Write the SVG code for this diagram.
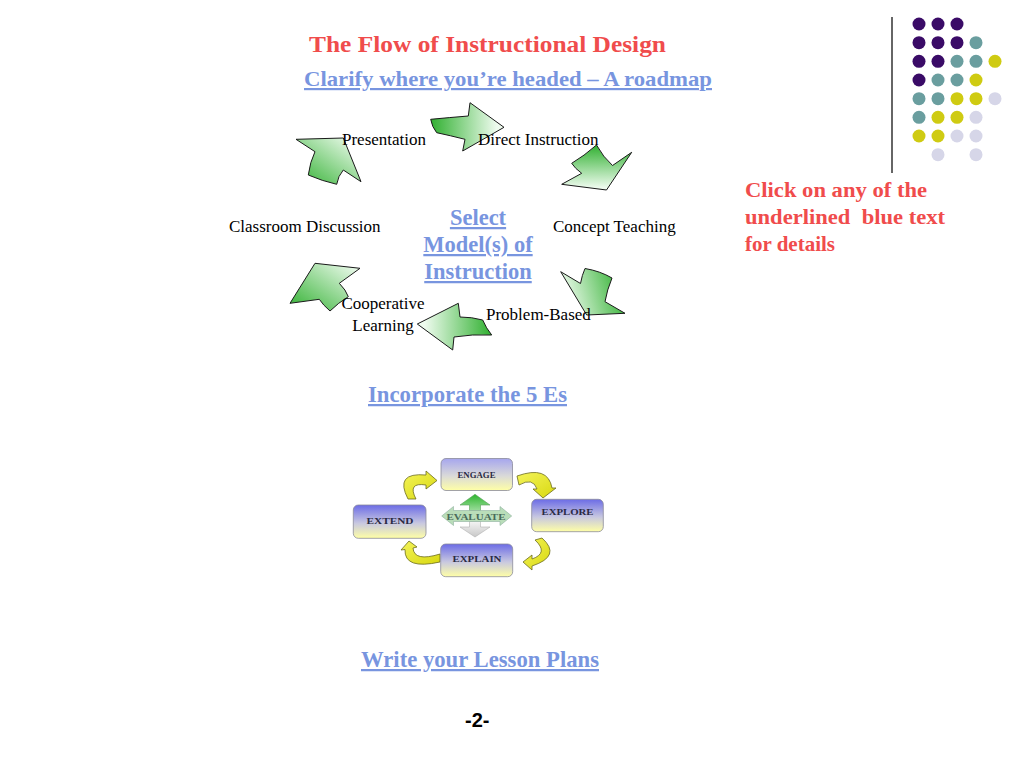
<svg xmlns="http://www.w3.org/2000/svg" width="1024" height="768" viewBox="0 0 1024 768">
<defs>
<style>
.red{font-family:"Liberation Serif","Times New Roman",serif;font-weight:bold;fill:#F04C4C}
.blue{font-family:"Liberation Serif","Times New Roman",serif;font-weight:bold;fill:#7895DF;text-decoration:underline}
.lbl{font-family:"Liberation Serif","Times New Roman",serif;font-size:17px;fill:#000}
.ga{stroke:#1a1a1a;stroke-width:1}
.box{stroke:#8a8a9a;stroke-width:0.8}
.bt{font-family:"Liberation Serif","Times New Roman",serif;font-weight:bold;font-size:8.5px;fill:#2a2a44;text-anchor:middle}
.ya{fill:url(#gy);stroke:#6b6b1e;stroke-width:0.8}
.dk{fill:#3A0B67}.tl{fill:#6A9E9F}.yl{fill:#CFCB12}.lv{fill:#D6D6E8}
</style>
<linearGradient id="g1" x1="0" y1="0.5" x2="1" y2="0.5"><stop offset="0" stop-color="#30B030"/><stop offset="0.9" stop-color="#EEFBEE"/></linearGradient>
<linearGradient id="g2" x1="0.5" y1="0" x2="0.5" y2="1"><stop offset="0" stop-color="#30B030"/><stop offset="0.95" stop-color="#EEFBEE"/></linearGradient>
<linearGradient id="g3" x1="1" y1="0.4" x2="0" y2="0.6"><stop offset="0" stop-color="#30B030"/><stop offset="0.95" stop-color="#EEFBEE"/></linearGradient>
<linearGradient id="g4" x1="1" y1="0.5" x2="0" y2="0.5"><stop offset="0" stop-color="#30B030"/><stop offset="0.9" stop-color="#EEFBEE"/></linearGradient>
<linearGradient id="g5" x1="0" y1="1" x2="1" y2="0"><stop offset="0" stop-color="#30B030"/><stop offset="0.95" stop-color="#EEFBEE"/></linearGradient>
<linearGradient id="gb" x1="0" y1="0" x2="0" y2="1"><stop offset="0" stop-color="#6C6CE6"/><stop offset="0.55" stop-color="#C8C8E0"/><stop offset="1" stop-color="#FFFFA6"/></linearGradient>
<linearGradient id="gbl" x1="0" y1="0" x2="0" y2="1"><stop offset="0" stop-color="#A6A6EE"/><stop offset="0.55" stop-color="#DADAD8"/><stop offset="1" stop-color="#FFFFA6"/></linearGradient>
<linearGradient id="gy" x1="0" y1="0" x2="1" y2="1"><stop offset="0" stop-color="#F4F45A"/><stop offset="1" stop-color="#D8D810"/></linearGradient>
<linearGradient id="gup" x1="0" y1="0" x2="0" y2="1"><stop offset="0" stop-color="#2EB62E"/><stop offset="1" stop-color="#9ADC9A"/></linearGradient>
<linearGradient id="gdn" x1="0" y1="0" x2="0" y2="1"><stop offset="0" stop-color="#F4F4F4"/><stop offset="1" stop-color="#C8C8C8"/></linearGradient>
</defs>
<rect width="1024" height="768" fill="#fff"/>

<g id="decoration">
<line x1="892" y1="17" x2="892" y2="173" stroke="#333" stroke-width="1.5"/>
<circle class="dk" cx="919" cy="24" r="6.5"/><circle class="dk" cx="938" cy="24" r="6.5"/><circle class="dk" cx="957" cy="24" r="6.5"/>
<circle class="dk" cx="919" cy="42.7" r="6.5"/><circle class="dk" cx="938" cy="42.7" r="6.5"/><circle class="dk" cx="957" cy="42.7" r="6.5"/><circle class="tl" cx="976" cy="42.7" r="6.5"/>
<circle class="dk" cx="919" cy="61.3" r="6.5"/><circle class="dk" cx="938" cy="61.3" r="6.5"/><circle class="tl" cx="957" cy="61.3" r="6.5"/><circle class="tl" cx="976" cy="61.3" r="6.5"/><circle class="yl" cx="995" cy="61.3" r="6.5"/>
<circle class="dk" cx="919" cy="80" r="6.5"/><circle class="tl" cx="938" cy="80" r="6.5"/><circle class="tl" cx="957" cy="80" r="6.5"/><circle class="yl" cx="976" cy="80" r="6.5"/>
<circle class="tl" cx="919" cy="98.7" r="6.5"/><circle class="tl" cx="938" cy="98.7" r="6.5"/><circle class="yl" cx="957" cy="98.7" r="6.5"/><circle class="yl" cx="976" cy="98.7" r="6.5"/><circle class="lv" cx="995" cy="98.7" r="6.5"/>
<circle class="tl" cx="919" cy="117.3" r="6.5"/><circle class="yl" cx="938" cy="117.3" r="6.5"/><circle class="yl" cx="957" cy="117.3" r="6.5"/><circle class="lv" cx="976" cy="117.3" r="6.5"/>
<circle class="yl" cx="919" cy="136" r="6.5"/><circle class="yl" cx="938" cy="136" r="6.5"/><circle class="lv" cx="957" cy="136" r="6.5"/><circle class="lv" cx="976" cy="136" r="6.5"/>
<circle class="lv" cx="938" cy="154.7" r="6.5"/><circle class="lv" cx="976" cy="154.7" r="6.5"/>
</g>

<g id="titles">
<text class="red" x="309" y="52" font-size="24" textLength="357" lengthAdjust="spacingAndGlyphs">The Flow of Instructional Design</text>
<text class="blue" x="304" y="86" font-size="22" textLength="408" lengthAdjust="spacingAndGlyphs">Clarify where you’re headed – A roadmap</text>
<text class="red" font-size="21" xml:space="preserve"><tspan x="745" y="197" textLength="182" lengthAdjust="spacingAndGlyphs">Click on any of the</tspan><tspan x="745" y="224" textLength="200" lengthAdjust="spacingAndGlyphs" style="white-space:pre">underlined  blue text</tspan><tspan x="745" y="251">for details</tspan></text>
</g>

<g id="connectors">
<path class="ga" fill="url(#g1)" d="M430.7,119.3 Q450,117.5 468.3,116 L470,102.7 L504,127.3 L462.7,151 L465,139.3 Q450,135.5 436.7,132.7 Q432,127 430.7,119.3 Z"/>
<path class="ga" fill="url(#g2)" d="M596.5,145 Q603,157 612.5,165.5 L631.7,152.3 L606.5,190 L561.7,184.3 L581.7,173.3 Q575,168.5 571.7,163.3 Q584,156 596.5,145 Z"/>
<path class="ga" fill="url(#g3)" d="M560.7,271.7 L580.5,283.5 Q582,275 585,268.5 Q600,271 612,278 Q607,290 605,301.7 L625,313.3 L586.7,315 Z"/>
<path class="ga" fill="url(#g4)" d="M417.3,324 L458.3,303.3 L460,317 Q472,317 482.7,320 Q486,328 491.7,335 Q472,334 454,337 L452.7,350 Z"/>
<path class="ga" fill="url(#g5)" d="M290,303.3 L315,263.3 L360,268.3 L339.3,283.3 Q346,290 348.3,296.7 Q338,303 330,311 Q323,305 319.3,299.3 Z"/>
<path class="ga" fill="url(#g5)" d="M296,139.3 L343.3,138 L361,181.7 L343.3,170 Q338,176 336.7,184.3 Q322,181 308.3,175 Q310,162 315,151.7 Z"/>
<path class="ya" d="M517,476 Q548,465 552,488 L556,488 L543,498 L533,489 L537,489 Q533,477 519,485 Z"/>
<path class="ya" d="M535,540 L542,538 Q562,556 532,566 L532,570 L523,562 L532,555 L532,559 Q549,553 535,540 Z"/>
<path class="ya" d="M440,554 L440,562 Q404,570 405,549.5 L401,550 L409,541 L417,547 L413,548 Q414,562 440,554 Z"/>
<path class="ya" d="M408,499 Q394,472 426,475 L426,471 L437,480.5 L426,489 L426,485 Q407,482 416,499 Z"/>
</g>

<g id="n-presentation"><text class="lbl" x="342" y="145">Presentation</text></g>
<g id="n-direct"><text class="lbl" x="478" y="145">Direct Instruction</text></g>
<g id="n-concept"><text class="lbl" x="553" y="232">Concept Teaching</text></g>
<g id="n-problem"><text class="lbl" x="486" y="320">Problem-Based</text></g>
<g id="n-cooperative"><text class="lbl" text-anchor="middle"><tspan x="383" y="309">Cooperative</tspan><tspan x="383" y="331">Learning</tspan></text></g>
<g id="n-discussion"><text class="lbl" x="229" y="232">Classroom Discussion</text></g>
<g id="n-select"><text class="blue" font-size="22.5" text-anchor="middle"><tspan x="478" y="225">Select</tspan><tspan x="478" y="252">Model(s) of</tspan><tspan x="478" y="279">Instruction</tspan></text></g>

<g id="n-5es"><text class="blue" x="368" y="402" font-size="22.5" textLength="199" lengthAdjust="spacingAndGlyphs">Incorporate the 5 Es</text></g>

<g id="n-engage"><rect class="box" x="441" y="458.5" width="71.5" height="32" rx="5" fill="url(#gbl)"/><text class="bt" x="476.5" y="478" textLength="38" lengthAdjust="spacingAndGlyphs">ENGAGE</text></g>
<g id="n-explore"><rect class="box" x="531.7" y="499.3" width="71.6" height="32.4" rx="5" fill="url(#gb)"/><text class="bt" x="567.5" y="515" textLength="52" lengthAdjust="spacingAndGlyphs">EXPLORE</text></g>
<g id="n-extend"><rect class="box" x="353.3" y="505" width="72.7" height="33.3" rx="5" fill="url(#gb)"/><text class="bt" x="390" y="524" textLength="47" lengthAdjust="spacingAndGlyphs">EXTEND</text></g>
<g id="n-explain"><rect class="box" x="440.7" y="544" width="72" height="32.7" rx="5" fill="url(#gb)"/><text class="bt" x="477" y="562" textLength="49" lengthAdjust="spacingAndGlyphs">EXPLAIN</text></g>
<g id="n-evaluate">
<path d="M475,494.3 L490,505 L480.5,505 L480.5,510.5 L469.5,510.5 L469.5,505 L460,505 Z" fill="url(#gup)" stroke="#5aa05a" stroke-width="0.6"/>
<path d="M469.5,521.5 L480.5,521.5 L480.5,527 L490,527 L475,537 L460,527 L469.5,527 Z" fill="url(#gdn)" stroke="#b0b0b0" stroke-width="0.6"/>
<path d="M441.7,516 L453.5,506.5 L453.5,510.5 L500,510.5 L500,506.5 L511.7,516 L500,525.5 L500,521.5 L453.5,521.5 L453.5,525.5 Z" fill="#B9DDB9" stroke="#8fb0a0" stroke-width="0.6"/>
<text class="bt" x="476" y="519.5" textLength="59" lengthAdjust="spacingAndGlyphs" style="fill:#4a6a5a">EVALUATE</text>
</g>

<g id="n-lesson"><text class="blue" x="361" y="667" font-size="22.5" textLength="238" lengthAdjust="spacingAndGlyphs">Write your Lesson Plans</text></g>
<g id="page"><text x="465" y="727" font-family="'Liberation Sans',Arial,sans-serif" font-weight="bold" font-size="20" fill="#000">-2-</text></g>
</svg>
